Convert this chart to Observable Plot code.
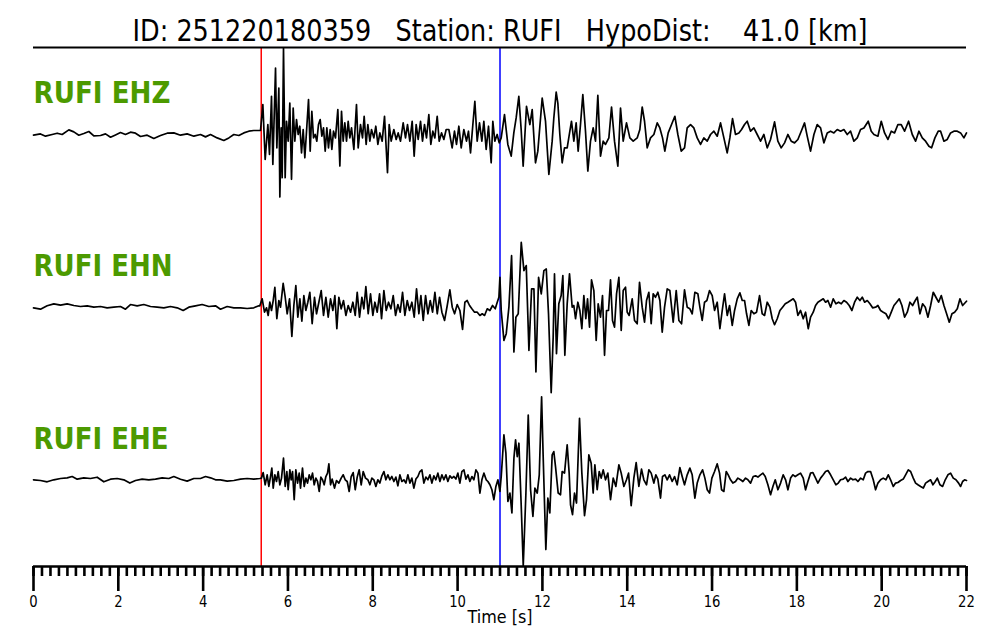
<!DOCTYPE html>
<html><head><meta charset="utf-8">
<script src="https://cdn.jsdelivr.net/npm/d3@7"></script>
<script src="https://cdn.jsdelivr.net/npm/@observablehq/plot@0.6"></script>
<style>body{margin:0;background:#fff} svg{display:block}</style>
</head><body><div id="chart"></div>
<script>
// ---- Chart data ----
const eventId = "251220180359";
const station = "RUFI";
const hypoDistKm = 41.0;
const channels = ["EHZ", "EHN", "EHE"];
const pickP = 5.37;   // red pick [s]
const pickS = 11.0;   // blue pick [s]
const majorTicks = [0, 2, 4, 6, 8, 10, 12, 14, 16, 18, 20, 22];
const axisLabel = "Time [s]";

// traces: [time s, amplitude (normalised)]
const ehzTrace = [[0,-1.2],[0.165,0.1],[0.283,-2.2],[0.44,-0.5],[0.558,0.8],[0.676,-0.5],[0.833,4.1],[0.951,2.1],[1.069,-1.2],[1.187,0.5],[1.305,2.5],[1.423,-1.9],[1.58,-1.5],[1.698,0.1],[1.816,-3.2],[1.933,-0.9],[2.051,1.5],[2.169,-0.5],[2.287,1.8],[2.405,0.8],[2.523,-2.5],[2.68,-1.2],[2.837,-4.5],[2.995,-1.5],[3.152,0.8],[3.309,1.1],[3.466,-1.2],[3.623,0.1],[3.781,-2.2],[3.938,-0.5],[4.056,-2.9],[4.174,-0.5],[4.331,-3.9],[4.488,-6.5],[4.606,-3.9],[4.724,-0.5],[4.842,-1.5],[4.959,1.1],[5.077,2.8],[5.195,3.5],[5.313,3.5],
[5.353,3.5],[5.408,29.5],[5.463,-25.5],[5.526,9.5],[5.565,-20.5],[5.612,37.8],[5.644,-30.5],[5.707,66.1],[5.738,-13.9],[5.785,46.1],[5.809,-63.2],[5.84,6.1],[5.864,-43.9],[5.895,86.1],[5.934,-43.9],[5.966,12.8],[6.005,-7.2],[6.044,31.1],[6.084,-45.5],[6.123,26.1],[6.162,-7.2],[6.202,14.5],[6.241,-0.5],[6.28,7.8],[6.32,-18.9],[6.359,4.5],[6.398,-23.9],[6.438,2.8],[6.485,34.5],[6.524,-17.2],[6.563,22.8],[6.603,-3.9],[6.642,-0.5],[6.681,-7.2],[6.72,9.5],[6.76,14.5],[6.799,-2.2],[6.838,6.1],[6.878,-17.2],[6.917,6.1],[6.956,-13.9],[6.996,4.5],[7.035,-15.5],[7.074,2.8],[7.121,-3.9],[7.176,24.5],[7.224,-32.2],[7.263,22.8],[7.302,-7.2],[7.341,11.1],[7.381,-7.2],[7.42,12.8],[7.459,-3.9],[7.499,6.1],[7.554,-15.5],[7.616,29.5],[7.656,-13.9],[7.711,9.5],[7.758,-3.9],[7.797,17.8],[7.844,-10.5],[7.884,9.5],[7.931,-7.2],[7.97,4.5],[8.025,-3.9],[8.072,7.8],[8.12,-10.5],[8.167,1.1],[8.222,-7.2],[8.277,17.8],[8.347,-38.9],[8.387,9.5],[8.434,-7.2],[8.497,4.5],[8.552,-5.5],[8.599,1.1],[8.654,-7.2],[8.717,11.1],[8.772,-3.9],[8.819,9.5],[8.874,-7.2],[8.929,12.8],[8.976,-22.2],[9.023,9.5],[9.071,-5.5],[9.126,12.8],[9.173,-7.2],[9.22,9.5],[9.267,-3.9],[9.322,19.5],[9.369,-10.5],[9.416,2.8],[9.464,-3.9],[9.519,17.8],[9.566,-7.2],[9.621,1.1],[9.676,-5.5],[9.731,4.5],[9.794,4.5],[9.872,-13.9],[9.927,2.8],[9.974,-10.5],[10.03,7.8],[10.085,-13.9],[10.147,4.5],[10.21,-7.2],[10.257,2.8],[10.305,-18.9],[10.36,9.5],[10.407,32.8],[10.462,-7.2],[10.517,11.1],[10.572,-7.2],[10.619,12.8],[10.674,-15.5],[10.729,7.8],[10.792,-28.9],[10.831,12.8],[10.878,-7.2],[10.933,-0.5],[10.981,-8.9],[11.028,-3.9],[11.106,19.5],[11.185,-10.5],[11.264,-22.2],[11.326,1.1],[11.381,16.1],[11.444,37.8],[11.499,4.5],[11.546,-32.2],[11.625,27.8],[11.704,9.5],[11.759,24.5],[11.837,-28.9],[11.892,-17.2],[11.995,36.1],[12.073,12.8],[12.152,-40.5],
[12.23,-7.2],[12.269,16.1],[12.325,42.1],[12.364,31.1],[12.411,-0.5],[12.466,-28.9],[12.521,-13.9],[12.584,-13.9],[12.647,2.8],[12.686,12.8],[12.741,-7.2],[12.796,11.1],[12.843,-17.2],[12.898,9.5],[12.953,39.5],[13.016,2.8],[13.071,-37.2],[13.134,-7.2],[13.197,6.1],[13.252,-7.2],[13.307,38.8],[13.37,-22.2],[13.433,-7.2],[13.488,-10.5],[13.567,-3.9],[13.63,27.1],[13.7,-7.2],[13.779,-32.2],[13.842,26.1],[13.905,-7.2],[13.983,11.1],[14.062,-3.9],[14.141,-7.2],[14.235,-3.9],[14.298,4.5],[14.353,27.1],[14.408,12.8],[14.471,-13.9],[14.549,-3.9],[14.628,-0.5],[14.707,11.1],[14.769,6.1],[14.832,-3.9],[14.887,-17.2],[14.966,1.1],[15.045,9.5],[15.123,17.8],[15.194,-0.5],[15.273,-17.2],[15.351,-13.9],[15.414,6.1],[15.493,9.5],[15.571,6.1],[15.65,-3.9],[15.729,-10.5],[15.807,-3.9],[15.886,-7.2],[15.964,-0.5],[16.043,2.8],[16.122,-2.2],[16.2,11.1],[16.279,-3.9],[16.357,-18.9],[16.42,-3.9],[16.483,15.5],[16.554,-0.5],[16.633,1.1],[16.696,4.5],[16.766,9.5],[16.829,12.8],[16.908,2.8],[16.986,6.1],[17.065,-0.5],[17.144,-7.2],[17.222,-0.5],[17.301,-13.9],[17.379,-5.5],[17.474,12.1],[17.552,-7.2],[17.631,-13.9],[17.71,-8.9],[17.788,-0.5],[17.867,-7.2],[17.946,-8.9],[18.024,-5.5],[18.103,2.8],[18.181,11.1],[18.244,-2.2],[18.323,-17.2],[18.402,-0.5],[18.48,9.5],[18.559,6.1],[18.637,-8.9],[18.716,1.1],[18.795,2.8],[18.873,1.1],[18.952,4.5],[19.031,2.8],[19.109,4.5],[19.188,-0.5],[19.266,2.8],[19.345,-7.2],[19.424,-3.9],[19.502,4.5],[19.581,6.1],[19.683,12.8],[19.754,2.8],[19.817,-0.5],[19.911,-2.2],[19.99,12.8],[20.068,1.1],[20.147,-5.5],[20.226,2.8],[20.304,1.1],[20.383,9.5],[20.461,9.5],[20.54,2.8],[20.634,12.8],[20.721,-0.5],[20.799,-7.2],[20.878,2.8],[20.957,-3.9],[21.035,-7.2],[21.114,-12.2],[21.177,-13.9],[21.255,-3.9],[21.334,2.8],[21.389,2.8],[21.468,-7.2],[21.546,-5.5],[21.625,1.1],[21.703,2.8],[21.782,2.8],[21.861,1.1],[21.939,-3.9],[22,1.1]];

const ehnTrace = [[0,-0.8],[0.165,-2.2],[0.322,1.2],[0.479,3.2],[0.637,1.8],[0.794,3.2],[0.951,1.5],[1.108,0.5],[1.265,1.2],[1.423,-0.2],[1.58,0.5],[1.737,-0.8],[1.894,-0.2],[2.051,0.5],[2.169,-2.2],[2.287,2.5],[2.444,1.2],[2.601,2.5],[2.759,0.5],[2.916,-0.2],[3.073,-0.8],[3.23,0.5],[3.388,-0.8],[3.529,-3.5],[3.663,-0.2],[3.82,1.2],[3.977,2.5],[4.134,0.5],[4.291,1.2],[4.409,-2.2],[4.567,0.5],[4.724,-0.8],[4.881,-0.8],[5.038,-1.5],[5.195,-0.8],[5.313,1.2],
[5.337,1.2],[5.392,8.2],[5.447,-5.2],[5.494,-0.8],[5.534,-8.5],[5.573,4.8],[5.612,-3.5],[5.652,6.5],[5.691,19.8],[5.738,-11.8],[5.785,6.5],[5.825,-0.2],[5.887,23.8],[5.935,9.8],[5.982,-6.8],[6.037,8.2],[6.092,-29.5],[6.139,1.5],[6.186,21.5],[6.233,-10.2],[6.281,8.2],[6.328,-14.2],[6.375,11.5],[6.422,-3.5],[6.469,4.8],[6.516,14.8],[6.571,-16.8],[6.626,9.8],[6.674,-6.8],[6.729,4.8],[6.784,16.5],[6.839,-8.5],[6.894,9.8],[6.949,-10.2],[7.004,8.2],[7.059,-3.5],[7.106,11.5],[7.153,-21.8],[7.2,9.8],[7.255,-1.8],[7.31,6.5],[7.366,-8.5],[7.421,1.5],[7.476,-5.2],[7.531,4.8],[7.586,-8.5],[7.633,14.8],[7.688,-10.2],[7.743,9.8],[7.79,-1.8],[7.837,20.5],[7.892,-6.8],[7.947,13.2],[8.002,-8.5],[8.05,4.8],[8.105,-5.2],[8.16,13.2],[8.207,-11.8],[8.262,16.5],[8.317,-3.5],[8.372,4.8],[8.427,-1.8],[8.482,11.5],[8.537,-8.5],[8.592,2.5],[8.647,-5.2],[8.702,14.8],[8.757,-8.5],[8.812,6.5],[8.867,-3.5],[8.922,4.8],[8.977,-10.2],[9.032,18.2],[9.087,-6.8],[9.135,11.5],[9.19,-13.5],[9.245,11.5],[9.3,-6.8],[9.355,6.5],[9.41,-5.2],[9.465,14.8],[9.52,-6.8],[9.575,9.8],[9.63,-5.2],[9.693,-13.5],[9.756,1.5],[9.818,17.2],[9.874,-0.2],[9.929,-6.8],[9.991,2.5],[10.054,-3.5],[10.117,-22.5],[10.172,4.8],[10.227,6.5],[10.282,1.5],[10.337,-1.8],[10.4,-5.2],[10.463,-5.2],[10.526,-8.5],[10.581,-6.8],[10.636,-8.5],[10.699,-1.8],[10.762,-3.5],[10.825,1.5],[10.888,-1.8],[10.935,4.8],[10.974,9.8],[10.998,29.8],[11.029,-3.5],[11.092,-33.5],[11.147,-26.8],[11.21,-0.2],[11.273,51.5],[11.328,-45.2],[11.375,-10.2],[11.43,-6.8],[11.501,64.8],[11.564,36.5],[11.619,41.5],[11.682,-43.5],[11.745,18.2],[11.8,18.2],[11.847,-65.2],[11.91,29.8],[11.973,13.2],[12.035,36.5],[12.091,38.2],
[12.144,-6.8],[12.207,-86],[12.254,-30.2],[12.285,33.2],[12.332,-46.8],[12.387,3.2],[12.442,11.5],[12.482,31.5],[12.529,-48.5],[12.584,3.2],[12.639,33.2],[12.702,-0.2],[12.741,1.5],[12.781,-11.8],[12.836,4.8],[12.883,-3.5],[12.93,-21.8],[12.977,11.5],[13.024,-11.8],[13.064,8.2],[13.111,-20.2],[13.158,27.2],[13.213,16.5],[13.268,-33.5],[13.315,3.2],[13.37,-10.2],[13.417,11.5],[13.465,-48.5],[13.512,-3.5],[13.559,-3.5],[13.606,27.2],[13.653,-13.5],[13.7,-20.2],[13.748,13.2],[13.803,29.8],[13.858,-23.5],[13.905,16.5],[13.96,19.8],[13.999,-5.2],[14.046,-8.5],[14.117,8.2],[14.172,-13.5],[14.235,-16.8],[14.29,24.8],[14.353,-0.2],[14.408,-15.2],[14.455,6.5],[14.51,14.8],[14.565,-16.8],[14.612,13.2],[14.667,9.8],[14.722,14.8],[14.77,6.5],[14.825,-25.2],[14.88,-0.2],[14.943,18.2],[15.005,16.5],[15.084,-15.2],[15.155,16.5],[15.218,-13.5],[15.281,-16.8],[15.351,17.2],[15.414,-0.2],[15.477,-1.8],[15.532,-6.8],[15.595,14.8],[15.666,13.2],[15.713,-0.2],[15.768,-13.5],[15.823,4.8],[15.878,6.5],[15.941,16.5],[16.004,11.5],[16.059,-3.5],[16.122,4.8],[16.185,-21.8],[16.24,-3.5],[16.295,13.2],[16.358,-8.5],[16.413,1.5],[16.476,-18.5],[16.531,-3.5],[16.594,8.2],[16.656,14.2],[16.712,6.5],[16.767,6.5],[16.814,-6.8],[16.869,-18.5],[16.924,-3.5],[16.987,-6.8],[17.05,-5.2],[17.12,11.5],[17.183,-6.8],[17.238,-8.5],[17.301,4.8],[17.364,-0.2],[17.419,-11.8],[17.474,-17.8],[17.537,-11.8],[17.6,-3.5],[17.663,-0.2],[17.726,3.2],[17.789,4.8],[17.852,6.5],[17.914,8.2],[17.969,4.8],[18.024,-8.5],[18.087,-3.5],[18.15,-11.8],[18.205,-5.2],[18.268,-21.8],[18.323,-10.2],[18.386,-5.2],[18.441,1.5],[18.496,4.8],[18.559,6.5],[18.622,8.2],[18.677,4.8],[18.732,6.5],[18.795,-0.2],[18.858,8.2],[18.921,3.2],[18.984,4.8],[19.047,3.2],[19.109,6.5],[19.172,4.8],[19.235,1.5],[19.298,-3.5],[19.361,4.8],[19.424,9.8],[19.487,6.5],[19.542,9.8],[19.597,4.8],[19.66,6.5],[19.723,3.2],[19.786,-0.8],[19.856,-0.2],[19.911,1.5],[19.974,-3.5],[20.037,-5.2],[20.1,-6.8],[20.163,-11.8],[20.226,-5.2],[20.289,1.5],[20.352,4.8],[20.415,8.2],[20.477,1.5],[20.54,-10.2],[20.603,-5.2],[20.666,4.8],[20.729,1.5],[20.792,6.5],[20.839,9.8],[20.902,-6.8],[20.965,3.2],[21.028,-0.2],[21.091,-10.2],[21.154,1.5],[21.216,14.8],[21.279,9.8],[21.342,4.8],[21.405,11.5],[21.468,1.5],[21.531,-6.8],[21.594,-15.2],[21.657,-6.8],[21.72,-5.2],[21.783,-1.8],[21.846,8.2],[21.908,1.5],[22,5.8]];

const eheTrace = [[0,0.2],[0.165,-0.5],[0.322,-1.8],[0.479,0.2],[0.637,1.5],[0.794,2.2],[0.912,3.5],[1.03,0.8],[1.187,2.2],[1.344,1.5],[1.501,2.8],[1.658,-1.8],[1.816,0.8],[1.973,1.5],[2.13,0.2],[2.271,-3.1],[2.405,-0.5],[2.562,0.8],[2.719,0.2],[2.877,0.8],[3.034,2.2],[3.191,1.5],[3.309,3.5],[3.466,0.8],[3.623,-1.1],[3.781,1.5],[3.938,1.5],[4.056,3.5],[4.174,2.2],[4.292,0.2],[4.409,0.2],[4.567,-1.1],[4.724,-0.5],[4.881,0.8],[5.038,1.5],[5.195,0.8],[5.337,1.5],
[5.376,1.9],[5.416,7.5],[5.463,-4.8],[5.51,5.2],[5.549,-6.5],[5.589,3.5],[5.62,11.9],[5.652,-8.1],[5.691,5.2],[5.73,-1.5],[5.77,8.5],[5.809,-4.8],[5.848,1.9],[5.895,21.9],[5.935,-6.5],[5.974,8.5],[6.005,-9.8],[6.045,10.2],[6.076,0.2],[6.108,8.5],[6.147,-19.8],[6.186,10.2],[6.226,-3.1],[6.265,6.9],[6.296,-8.1],[6.343,11.9],[6.383,-6.5],[6.422,1.9],[6.461,-3.1],[6.501,5.2],[6.54,0.2],[6.579,6.9],[6.619,-4.8],[6.658,1.9],[6.697,-1.5],[6.737,-11.5],[6.776,2.9],[6.815,0.2],[6.854,-4.8],[6.894,3.5],[6.933,6.9],[6.965,16.2],[7.004,-4.8],[7.043,0.9],[7.098,-8.1],[7.145,-0.5],[7.2,-3.1],[7.255,1.9],[7.303,5.2],[7.35,0.2],[7.397,-1.5],[7.444,-11.5],[7.491,3.5],[7.538,7.5],[7.586,-9.8],[7.633,2.9],[7.68,10.2],[7.727,-4.8],[7.774,8.5],[7.829,1.9],[7.884,0.2],[7.932,-4.8],[7.979,1.9],[8.026,0.2],[8.073,-6.5],[8.12,0.2],[8.167,-3.1],[8.215,4.2],[8.262,8.5],[8.309,0.2],[8.356,5.2],[8.403,0.2],[8.45,3.5],[8.498,-1.5],[8.545,2.9],[8.592,-5.8],[8.639,5.2],[8.686,-1.5],[8.734,0.2],[8.781,-3.1],[8.828,5.2],[8.875,-3.1],[8.922,1.9],[8.969,-8.1],[9.017,0.9],[9.064,3.5],[9.111,8.5],[9.158,10.2],[9.205,-3.1],[9.252,2.9],[9.3,0.2],[9.347,5.2],[9.394,-3.1],[9.441,4.2],[9.488,0.2],[9.535,6.9],[9.583,-1.5],[9.63,5.2],[9.677,0.2],[9.724,5.2],[9.771,-1.5],[9.818,4.2],[9.866,1.9],[9.913,3.5],[9.96,0.9],[10.007,6.9],[10.054,-3.1],[10.101,8.5],[10.149,10.2],[10.196,0.9],[10.243,5.2],[10.29,-1.5],[10.337,3.5],[10.384,0.2],[10.432,10.2],[10.479,6.9],[10.526,-13.1],[10.573,0.2],[10.62,6.9],[10.675,0.2],[10.715,-1.5],[10.762,-4.8],[10.809,-9.8],[10.856,-19.8],[10.903,-6.5],[10.951,0.2],[10.998,-11.5],[11.029,3.5],[11.092,45.2],[11.139,26.9],[11.186,-21.5],[11.234,-13.1],[11.281,-33.1],[11.328,21.9],[11.367,40.2],[11.407,23.5],[11.446,36.9],[11.501,-26.5],[11.548,-86],[11.611,-13.1],[11.666,65.2],[11.721,-9.8],[11.776,-36.5],[11.823,-8.1],[11.878,-13.1],[11.926,5.2],[11.981,83.5],
[12.018,23.5],[12.081,-69.8],[12.128,-18.1],[12.175,-33.1],[12.23,25.2],[12.269,28.5],[12.309,13.5],[12.372,-13.1],[12.427,-14.8],[12.466,8.5],[12.521,6.9],[12.584,35.2],[12.631,6.9],[12.663,-24.8],[12.71,-34.8],[12.757,-13.1],[12.804,-23.1],[12.875,61.9],[12.93,6.9],[12.993,-35.8],[13.04,-19.8],[13.095,25.2],[13.15,16.9],[13.197,-13.1],[13.237,15.2],[13.292,-9.8],[13.339,8.5],[13.386,1.9],[13.433,10.2],[13.488,0.2],[13.543,6.9],[13.606,-19.8],[13.669,1.9],[13.732,-6.5],[13.803,15.2],[13.858,6.9],[13.921,-6.5],[13.983,0.2],[14.031,6.9],[14.093,-25.8],[14.156,1.9],[14.211,17.5],[14.274,-6.5],[14.337,10.9],[14.392,0.2],[14.455,-4.8],[14.51,10.2],[14.565,6.9],[14.628,-3.1],[14.675,5.2],[14.722,0.9],[14.785,-18.1],[14.832,3.5],[14.888,5.2],[14.943,0.2],[14.998,5.2],[15.06,-1.5],[15.116,3.5],[15.178,-4.8],[15.241,12.5],[15.296,3.5],[15.351,-4.8],[15.414,5.2],[15.477,11.9],[15.532,5.2],[15.595,-18.1],[15.65,-3.1],[15.713,5.2],[15.776,10.2],[15.831,1.9],[15.886,-9.8],[15.941,-13.1],[15.996,1.9],[16.059,8.5],[16.122,16.2],[16.177,6.9],[16.224,-9.8],[16.279,-11.5],[16.334,8.5],[16.381,5.2],[16.436,0.2],[16.491,-3.1],[16.554,-1.5],[16.609,1.9],[16.672,0.2],[16.727,-1.5],[16.79,1.9],[16.845,0.2],[16.908,-3.1],[16.971,3.5],[17.026,4.2],[17.081,2.9],[17.144,5.2],[17.199,6.9],[17.254,3.5],[17.317,-4.8],[17.38,-14.8],[17.435,-6.5],[17.49,0.2],[17.553,-9.8],[17.616,-3.1],[17.678,5.2],[17.734,0.2],[17.789,-9.8],[17.852,1.9],[17.907,5.2],[17.962,3.5],[18.024,5.2],[18.087,6.9],[18.15,1.9],[18.205,-9.8],[18.26,-1.5],[18.323,6.9],[18.378,7.5],[18.441,1.9],[18.496,-3.1],[18.559,1.9],[18.622,5.2],[18.677,8.5],[18.732,9.5],[18.795,5.2],[18.858,0.2],[18.921,-4.8],[18.976,-3.1],[19.031,0.2],[19.094,0.9],[19.149,2.9],[19.204,-1.5],[19.267,1.9],[19.322,0.2],[19.385,0.9],[19.44,-1.5],[19.503,1.9],[19.565,0.2],[19.62,6.9],[19.675,8.5],[19.738,8.5],[19.801,0.2],[19.856,-9.8],[19.911,-3.1],[19.974,0.2],[20.037,1.9],[20.1,0.2],[20.155,5.2],[20.21,0.2],[20.273,-6.5],[20.328,-3.1],[20.383,-2.5],[20.446,-0.5],[20.509,0.9],[20.564,5.2],[20.627,10.2],[20.682,8.5],[20.745,1.9],[20.8,-3.1],[20.855,-4.8],[20.918,-6.5],[20.981,-8.1],[21.036,-3.1],[21.091,-1.5],[21.154,0.2],[21.209,-4.8],[21.264,-1.5],[21.311,1.9],[21.374,-4.8],[21.436,-6.5],[21.499,0.2],[21.562,5.2],[21.625,6.9],[21.688,1.9],[21.751,0.2],[21.814,-3.1],[21.861,-6.5],[21.908,-1.5],[21.955,0.2],[22,-0.5]];

// ---- Build ----
const traces = [ehzTrace, ehnTrace, eheTrace];
const rows = [];
traces.forEach((tr, i) => tr.forEach(([t, a]) => rows.push({ch: channels[i], t, a})));
const yMax = 86.8;
const minorTicks = d3.range(0, 111).map(i => i / 5);
const nb = "\u00a0";
const title = `ID: ${eventId}${nb}${nb}${nb}Station: ${station}${nb}${nb}${nb}HypoDist:${nb}${nb}${nb}${nb}${hypoDistKm.toFixed(1)} [km]`;
const green = "#4c9a00";
const bottomCh = channels[channels.length - 1];

const svg = Plot.plot({
  width: 1000, height: 640,
  marginLeft: 33, marginRight: 34, marginTop: 46, marginBottom: 73,
  x: {domain: [0, 22]},
  y: {domain: [-yMax, yMax], axis: null},
  fy: {domain: channels, padding: 0, axis: null},
  style: {background: "white", fontFamily: "'DejaVu Sans', sans-serif", color: "black"},
  marks: [
    Plot.ruleX([pickP], {stroke: "#ff0000", strokeWidth: 1.5}),
    Plot.ruleX([pickS], {stroke: "#0000ff", strokeWidth: 1.5}),
    Plot.line(rows, {x: "t", y: "a", fy: "ch", z: "ch", stroke: "black", strokeWidth: 1.7, strokeLinejoin: "round"}),
    Plot.ruleY([{ch: channels[0], v: yMax}], {fy: "ch", y: "v", stroke: "black", strokeWidth: 2}),
    Plot.ruleY([{ch: bottomCh, v: -yMax}], {fy: "ch", y: "v", stroke: "black", strokeWidth: 2.4}),
    Plot.axisX(minorTicks, {anchor: "bottom", tickSize: 10, strokeWidth: 2.6, tickFormat: () => "", label: null}),
    Plot.axisX(majorTicks, {anchor: "bottom", tickSize: 25, strokeWidth: 2.6, tickFormat: () => "", label: null}),
    Plot.text(majorTicks, {x: d => d, fy: () => bottomCh, text: d => String(d), frameAnchor: "bottom", lineAnchor: "bottom", dy: 40, fontSize: 16, fill: "black"}),
    Plot.text(channels, {fy: d => d, text: d => `${station} ${d}`, frameAnchor: "top-left", textAnchor: "start", lineAnchor: "bottom", dy: 55, fill: green, fontSize: 30, fontWeight: "bold"}),
    Plot.text([title], {fy: [channels[0]], text: d => d, frameAnchor: "top", lineAnchor: "bottom", dy: -7, fontSize: 30, fill: "black"}),
    Plot.text([axisLabel], {fy: [bottomCh], text: d => d, frameAnchor: "bottom", lineAnchor: "bottom", dy: 56, fontSize: 18, fill: "black"})
  ]
});

// horizontal fit of the texts to the reference widths
const labelWidths = {EHZ: 137, EHN: 139, EHE: 135};
d3.select(svg).selectAll("text").each(function() {
  const s = this.textContent.trim();
  const sel = d3.select(this);
  let w = null;
  if (s.startsWith("ID:")) w = 735;
  else if (s.startsWith(station + " ")) w = labelWidths[s.slice(station.length + 1)];
  else if (s === axisLabel) w = 65;
  else if (/^\d+$/.test(s)) w = 8.4 * s.length;
  if (w) sel.attr("textLength", w).attr("lengthAdjust", "spacingAndGlyphs");
});
document.getElementById("chart").appendChild(svg);
</script>
</body></html>
